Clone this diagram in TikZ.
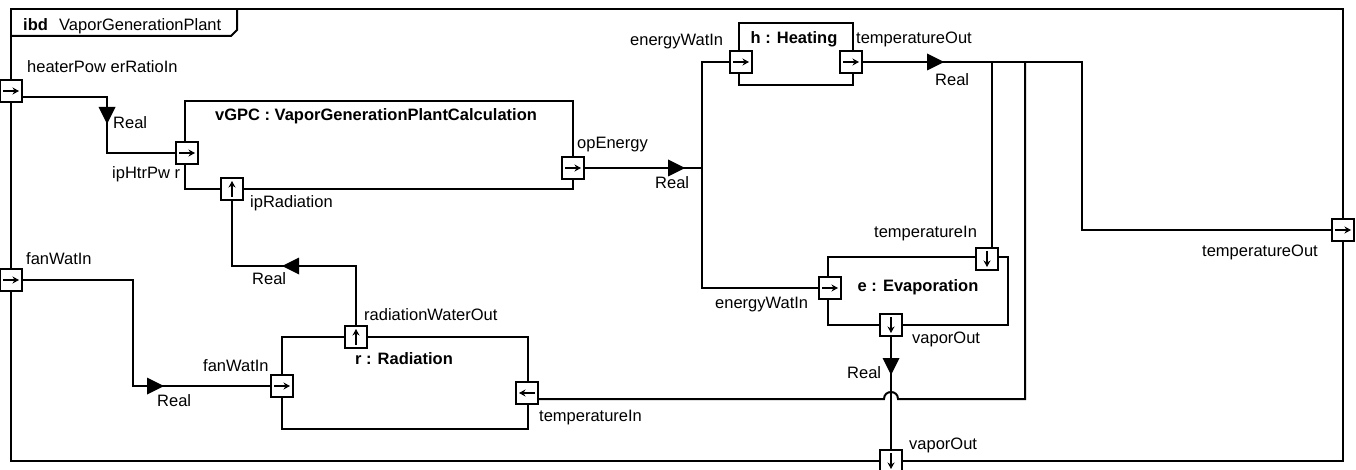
\documentclass[tikz,border=0pt]{standalone}
\usepackage{fontspec}
\setmainfont{Liberation Sans}
\usetikzlibrary{arrows.meta}
\pgfdeclarelayer{back}
\pgfsetlayers{back,main}
\begin{document}
\begin{tikzpicture}[x=1pt,y=-1pt, line width=2pt,
  lbl/.style={inner sep=0pt, anchor=base west, font=\fontsize{16.5}{19}\selectfont},
  ttl/.style={inner sep=0pt, anchor=base, font=\fontsize{16.5}{19}\selectfont\bfseries},
  blk/.style={draw, line width=2pt, inner sep=0pt, outer sep=0pt},
  conn/.style={draw=black, line width=2pt},
  port/.style={draw, line width=2pt, fill=white, minimum width=22pt, minimum height=22pt, inner sep=0pt, outer sep=0pt},
  parr/.style={line width=1.5pt, -{Stealth[length=6.5pt,width=7pt]}},
  pE/.style={port, path picture={\draw[parr] ([xshift=-8pt]path picture bounding box.center) -- ([xshift=8pt]path picture bounding box.center);}},
  pW/.style={port, path picture={\draw[parr] ([xshift=8pt]path picture bounding box.center) -- ([xshift=-8pt]path picture bounding box.center);}},
  pN/.style={port, path picture={\draw[parr] ([yshift=-8pt]path picture bounding box.center) -- ([yshift=8pt]path picture bounding box.center);}},
  pS/.style={port, path picture={\draw[parr] ([yshift=8pt]path picture bounding box.center) -- ([yshift=-8pt]path picture bounding box.center);}},
  flow/.style={fill=black, draw=none}
]
\begin{pgfonlayer}{back}
\path[fill=white] (0,0) rectangle (1356,470);
\end{pgfonlayer}
\useasboundingbox (0,0) rectangle (1356,470);

% frame
\begin{pgfonlayer}{back}
\draw[conn] (11,9) rectangle (1343,461);
\draw[conn] (11,36) -- (231,36) -- (237,30) -- (237,9);
\end{pgfonlayer}
\node[lbl, font=\fontsize{16.5}{19}\selectfont\bfseries] (ibd) at (23,31) {ibd};
\node[lbl] (fname) at (59,31) {VaporGenerationPlant};

% blocks
\node[blk, minimum width=388pt, minimum height=88pt] (vgpc) at (379,145) {};
\node[blk, minimum width=114pt, minimum height=62pt] (heat) at (796,54) {};
\node[blk, minimum width=180pt, minimum height=68pt] (evap) at (918,291) {};
\node[blk, minimum width=246pt, minimum height=92pt] (rad) at (405,383) {};

\node[ttl] (vgpcT) at (376,121) {vGPC : VaporGenerationPlantCalculation};
\node[ttl] (heatT) at (794,44) {h : Heating};
\node[ttl] (evapT) at (918,291) {e : Evaporation};
\node[ttl] (radT) at (404,364) {r : Radiation};

% junction coordinates
\coordinate (jA) at (702,168);
\coordinate (jB) at (992,62);
\coordinate (jC) at (1025,62);

% ports
\node[pE] (pHPR) at (11,91) {};
\node[pE] (ipH) at (187,153) {};
\node[pN] (ipR) at (232,189) {};
\node[pE] (opE) at (573,168) {};
\node[pE] (hEW) at (741,62) {};
\node[pE] (hTO) at (851,62) {};
\node[pE] (eEW) at (830,288) {};
\node[pS] (eTI) at (987,259) {};
\node[pS] (eVO) at (891,325) {};
\node[pS] (fVO) at (891,461) {};
\node[pN] (rRW) at (356,337) {};
\node[pE] (rFW) at (282,386) {};
\node[pW] (rTI) at (527,393) {};
\node[pE] (fFW) at (11,280) {};
\node[pE] (fTO) at (1343,230) {};

% connectors
\begin{pgfonlayer}{back}
\draw[conn] (pHPR.east |- 0,97) -- (107,97) -- (107,153) -- (ipH.west);
\draw[conn] (opE.east) -- (jA);
\draw[conn] (hEW.west) -- (702,62) -- (702,288) -- (eEW.west);
\draw[conn] (hTO.east) -- (1082,62) -- (1082,230) -- (fTO.west);
\draw[conn] (jB) -- (992,0 |- eTI.north);
\draw[conn] (jC) -- (1025,399) -- (898,399) .. controls (898,389.7) and (884,389.7) .. (884,399) -- (rTI.east |- 0,399);
\draw[conn] (eVO.south) -- (fVO.north);
\draw[conn] (rRW.north) -- (356,266) -- (232,266) -- (ipR.south);
\draw[conn] (fFW.east) -- (133,280) -- (133,386) -- (rFW.west);
\end{pgfonlayer}

% flow triangles
\fill[flow] (107,124) -- (98.5,107) -- (115.5,107) -- cycle;
\fill[flow] (685,168) -- (668,159.5) -- (668,176.5) -- cycle;
\fill[flow] (944,62) -- (927,53.5) -- (927,70.5) -- cycle;
\fill[flow] (891,375) -- (882.5,358) -- (899.5,358) -- cycle;
\fill[flow] (282,266) -- (299,257.5) -- (299,274.5) -- cycle;
\fill[flow] (164,386) -- (147,377.5) -- (147,394.5) -- cycle;

% labels
\node[lbl] (l1) at (27,73) {heaterPow erRatioIn};
\node[lbl] (r1) at (113,129) {Real};
\node[lbl] (l2) at (112,179) {ipHtrPw r};
\node[lbl] (l3) at (250,208) {ipRadiation};
\node[lbl] (l4) at (577,149) {opEnergy};
\node[lbl] (r2) at (655,189) {Real};
\node[lbl] (l5) at (630,46) {energyWatIn};
\node[lbl] (l6) at (856,44) {temperatureOut};
\node[lbl] (r3) at (935,86) {Real};
\node[lbl] (l7) at (874,238) {temperatureIn};
\node[lbl] (l8) at (715,308) {energyWatIn};
\node[lbl] (l9) at (912,343) {vaporOut};
\node[lbl] (r4) at (847,378) {Real};
\node[lbl] (l10) at (909,449) {vaporOut};
\node[lbl] (l11) at (1202,256) {temperatureOut};
\node[lbl] (l12) at (26,264) {fanWatIn};
\node[lbl] (r5) at (157,406) {Real};
\node[lbl] (l13) at (203,371) {fanWatIn};
\node[lbl] (l14) at (364,320) {radiationWaterOut};
\node[lbl] (r6) at (252,284) {Real};
\node[lbl] (l15) at (539,421) {temperatureIn};
\end{tikzpicture}
\end{document}
